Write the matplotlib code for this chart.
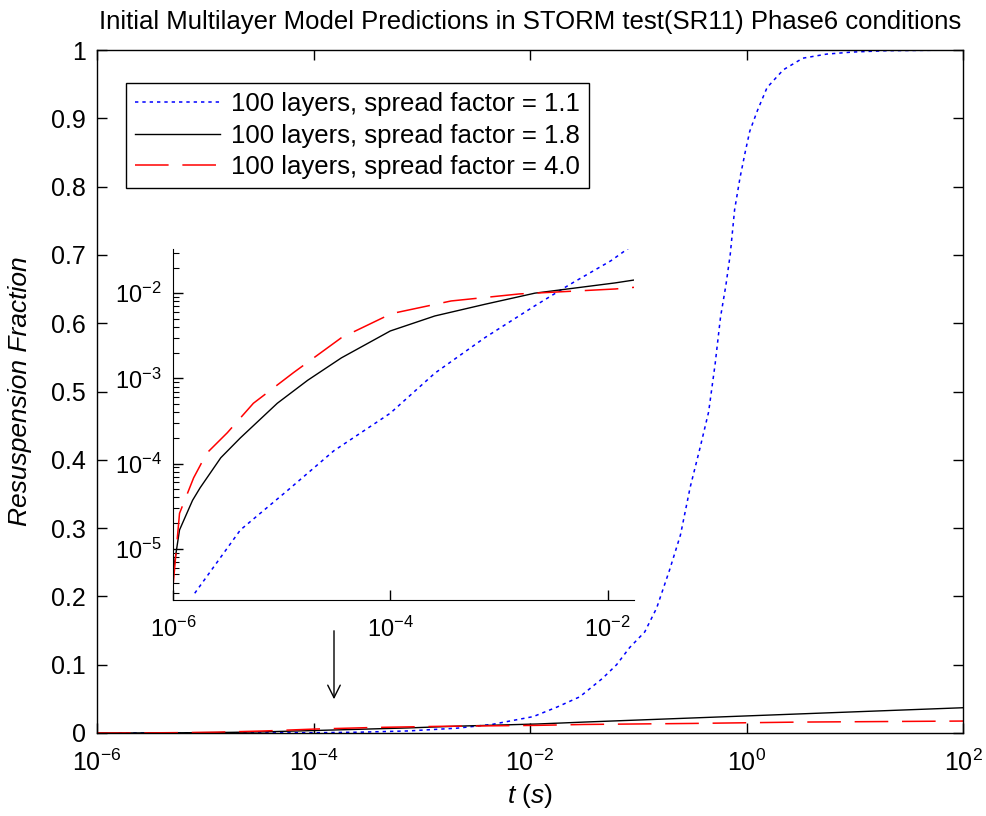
import numpy as np
import matplotlib
matplotlib.use("Agg")
import matplotlib.pyplot as plt
from matplotlib.ticker import FixedLocator, LogLocator, NullLocator, FixedFormatter

plt.rcParams['font.family'] = ['Liberation Sans', 'DejaVu Sans']
plt.rcParams['mathtext.fontset'] = 'custom'
plt.rcParams['mathtext.rm'] = 'Liberation Sans'
plt.rcParams['mathtext.it'] = 'Liberation Sans:italic'

# ---- data (log10 of time in s, resuspension fraction) ----
blue_logt = [-5.80, -5.38, -4.94, -4.52, -4.00, -3.59, -3.13, -2.67, -2.35, -1.97,
             -1.75, -1.54, -1.33, -1.20, -1.08, -0.94, -0.83, -0.71, -0.61, -0.52,
             -0.43, -0.35, -0.29, -0.24, -0.19, -0.15, -0.11, -0.06, -0.01, 0.03,
             0.10, 0.19, 0.34, 0.52, 0.74, 0.98, 1.30, 2.00]
blue_val = [3.0e-6, 1.66e-5, 4.9e-5, 1.41e-4, 3.9e-4, 1.15e-3, 3.0e-3, 7.1e-3, 1.26e-2, 2.4e-2,
            0.038, 0.053, 0.080, 0.100, 0.125, 0.148, 0.183, 0.239, 0.290, 0.360,
            0.417, 0.470, 0.540, 0.609, 0.656, 0.701, 0.766, 0.813, 0.852, 0.881,
            0.911, 0.945, 0.971, 0.988, 0.994, 0.997, 0.999, 1.000]

black_logt = [-6.00, -5.94, -5.82, -5.75, -5.56, -5.38, -5.04, -4.76, -4.45, -4.00,
              -3.59, -3.13, -2.67, -1.93, -1.50, -1.00, 0.00, 1.00, 2.00]
black_val = [5.2e-6, 1.66e-5, 3.7e-5, 5.2e-5, 1.17e-4, 2.0e-4, 5.1e-4, 9.5e-4, 1.74e-3, 3.6e-3,
             5.4e-3, 7.4e-3, 1.0e-2, 1.32e-2, 0.016, 0.019, 0.025, 0.031, 0.037]

red_logt = [-6.00, -5.94, -5.81, -5.69, -5.50, -5.26, -4.89, -4.45, -3.99, -3.44,
            -2.81, -1.93, -1.50, -0.50, 0.50, 2.00]
red_val = [3.6e-6, 2.6e-5, 6.8e-5, 1.32e-4, 2.3e-4, 5.1e-4, 1.17e-3, 3.0e-3, 5.75e-3, 8.1e-3,
           9.8e-3, 1.12e-2, 0.0125, 0.0140, 0.0160, 0.0175]

labels = ['100 layers, spread factor = 1.1',
          '100 layers, spread factor = 1.8',
          '100 layers, spread factor = 4.0']

main_yticks = [0, 0.1, 0.2, 0.3, 0.4, 0.5, 0.6, 0.7, 0.8, 0.9, 1]
main_ytick_labels = ['0', '0.1', '0.2', '0.3', '0.4', '0.5', '0.6', '0.7', '0.8', '0.9', '1']
main_xtick_exp = [-6, -4, -2, 0, 2]
inset_xtick_exp = [-6, -4, -2]
inset_ytick_exp = [-5, -4, -3, -2]

title = 'Initial Multilayer Model Predictions in STORM test(SR11) Phase6 conditions'

t_blue = 10.0 ** np.array(blue_logt)
t_black = 10.0 ** np.array(black_logt)
t_red = 10.0 ** np.array(red_logt)

fig = plt.figure(figsize=(9.86, 8.16), dpi=100)
W, H = 986, 816

def frac(l, r, t, b):
    return [l / W, 1 - b / H, (r - l) / W, (b - t) / H]

ax = fig.add_axes(frac(97, 963, 50, 733))

blue_style = dict(color='#0000ff', lw=1.1, dashes=(2.2, 2.6))
black_style = dict(color='black', lw=1.0, linestyle='-')
red_style = dict(color='#ff0000', lw=1.1, dashes=(22, 9))

ax.plot(t_blue, blue_val, label=labels[0], **blue_style)
ax.plot(t_black, black_val, label=labels[1], **black_style)
ax.plot(t_red, red_val, label=labels[2], **red_style)

ax.set_xscale('log')
ax.set_xlim(1e-6, 1e2)
ax.set_ylim(0, 1)
ax.xaxis.set_major_locator(FixedLocator([10.0 ** e for e in main_xtick_exp]))
ax.xaxis.set_major_formatter(FixedFormatter([r'$10^{%d}$' % e for e in main_xtick_exp]))
ax.xaxis.set_minor_locator(NullLocator())
ax.set_yticks(main_yticks)
ax.set_yticklabels(main_ytick_labels)
ax.tick_params(direction='in', length=7, width=1, labelsize=18, top=True, right=True)
ax.tick_params(axis='x', pad=12)
ax.tick_params(axis='y', pad=8)
for s in ax.spines.values():
    s.set_linewidth(1.0)

ax.set_title(title, fontsize=18.5, pad=15)
ax.set_xlabel(r'$t$ ($s$)', fontsize=19, labelpad=4)
ax.set_ylabel('Resuspension Fraction', fontsize=19, style='italic', labelpad=14)

leg = ax.legend(loc='upper left', bbox_to_anchor=((126 - 97) / 866, (733 - 83) / 683),
                fontsize=18.5, frameon=True, fancybox=False, framealpha=1,
                edgecolor='black', handlelength=3.3, handletextpad=0.45,
                borderpad=0.35, labelspacing=0.3, borderaxespad=0)
leg.get_frame().set_linewidth(1.0)

# arrow pointing to the zoomed region
ax.annotate('', xy=(10 ** (-6 + (334 - 97) / 108.25), (733 - 702) / 683),
            xytext=(10 ** (-6 + (334 - 97) / 108.25), (733 - 628) / 683),
            arrowprops=dict(arrowstyle='->,head_length=0.9,head_width=0.45', color='black', lw=1.0))

# ---- inset ----
axi = fig.add_axes(frac(173, 634, 249, 600))
axi.plot(t_blue, blue_val, **blue_style)
axi.plot(t_black, black_val, **black_style)
axi.plot(t_red, red_val, **red_style)
axi.set_xscale('log')
axi.set_yscale('log')
axi.set_xlim(1e-6, 1.75e-2)
axi.set_ylim(2.5e-6, 3.3e-2)
axi.spines['top'].set_visible(False)
axi.spines['right'].set_visible(False)
axi.patch.set_alpha(0)
axi.xaxis.set_major_locator(FixedLocator([10.0 ** e for e in inset_xtick_exp]))
axi.xaxis.set_major_formatter(FixedFormatter([r'$10^{%d}$' % e for e in inset_xtick_exp]))
axi.xaxis.set_minor_locator(NullLocator())
axi.yaxis.set_major_locator(FixedLocator([10.0 ** e for e in inset_ytick_exp]))
axi.yaxis.set_major_formatter(FixedFormatter([r'$10^{%d}$' % e for e in inset_ytick_exp]))
axi.yaxis.set_minor_locator(LogLocator(base=10, subs=np.arange(2, 10), numticks=20))
axi.tick_params(which='major', direction='in', length=7, width=1, labelsize=17)
axi.tick_params(axis='x', which='major', pad=12)
axi.tick_params(axis='y', which='major', pad=8)
axi.tick_params(which='minor', direction='in', length=4, width=0.8)

fig.savefig('out.png', dpi=100)
